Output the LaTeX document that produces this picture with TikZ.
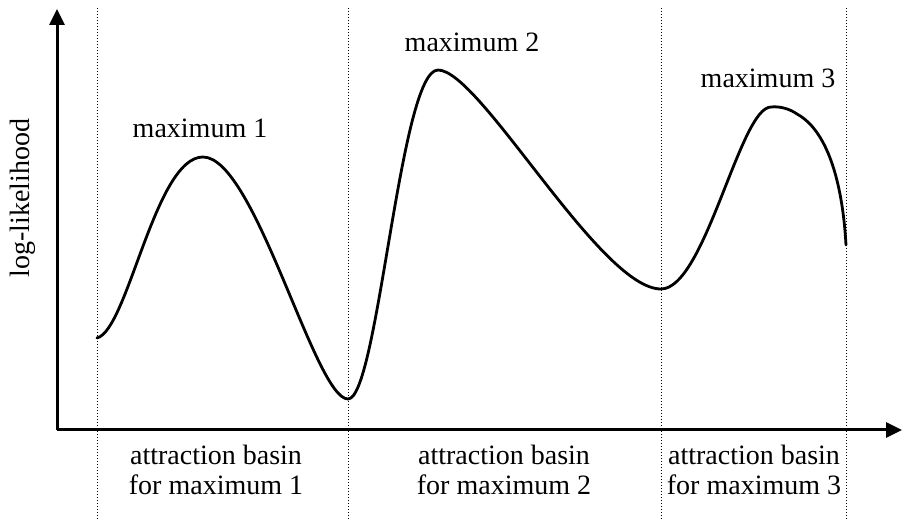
\documentclass[tikz,border=0pt]{standalone}
\usepackage{fontspec}
\setmainfont{Liberation Serif}
\usetikzlibrary{arrows.meta}
\begin{document}
\begin{tikzpicture}[x=0.5pt,y=-0.5pt,
  axis/.style={line width=1.5pt,-{Triangle[length=8pt,width=7.5pt]}},
  divider/.style={densely dotted,line width=0.5pt},
  lbl/.style={font=\fontsize{14}{16.8}\selectfont,inner sep=0pt,anchor=base},
  curve/.style={line width=1.4pt,line cap=round,line join=round}]
\useasboundingbox (0,0) rectangle (902,519);
% dividers
\coordinate (d1t) at (97,8);   \coordinate (d1b) at (97,519);
\coordinate (d2t) at (348,8);  \coordinate (d2b) at (348,519);
\coordinate (d3t) at (661,8);  \coordinate (d3b) at (661,519);
\coordinate (d4t) at (846,8);  \coordinate (d4b) at (846,519);
\draw[divider] (d1t) -- (d1b);
\draw[divider] (d2t) -- (d2b);
\draw[divider] (d3t) -- (d3b);
\draw[divider] (d4t) -- (d4b);
% axes
\coordinate (o) at (57,430);
\coordinate (ytip) at (57,9);
\coordinate (xtip) at (902,430);
\draw[axis] (o) -- (ytip);
\draw[axis] (o) -- (xtip);
% curve
\coordinate (s) at (97,338);
\coordinate (m1) at (203,157);
\coordinate (n1) at (348,399);
\coordinate (m2) at (438,70);
\coordinate (n2) at (661,289);
\coordinate (m3) at (771,107);
\coordinate (sh) at (797,114);
\coordinate (e) at (846,245);
\draw[curve] (s) .. controls (128,330) and (155,157) .. (m1)
  .. controls (255,157) and (315,399) .. (n1)
  .. controls (378,399) and (400,70) .. (m2)
  .. controls (480,70) and (600,289) .. (n2)
  .. controls (705,289) and (740,107) .. (m3)
  .. controls (780,106) and (790,109) .. (sh)
  .. controls (830,132) and (843,190) .. (e);
% labels
\node[lbl] (t1) at (200,138) {maximum 1};
\node[lbl] (t2) at (472,52) {maximum 2};
\node[lbl] (t3) at (768,88) {maximum 3};
\node[lbl,rotate=90] (ty) at (30,198) {log-likelihood};
\node[lbl] (b1a) at (216,465) {attraction basin};
\node[lbl] (b1b) at (216,495) {for maximum 1};
\node[lbl] (b2a) at (504,465) {attraction basin};
\node[lbl] (b2b) at (504,495) {for maximum 2};
\node[lbl] (b3a) at (754,465) {attraction basin};
\node[lbl] (b3b) at (754,495) {for maximum 3};
\end{tikzpicture}
\end{document}
